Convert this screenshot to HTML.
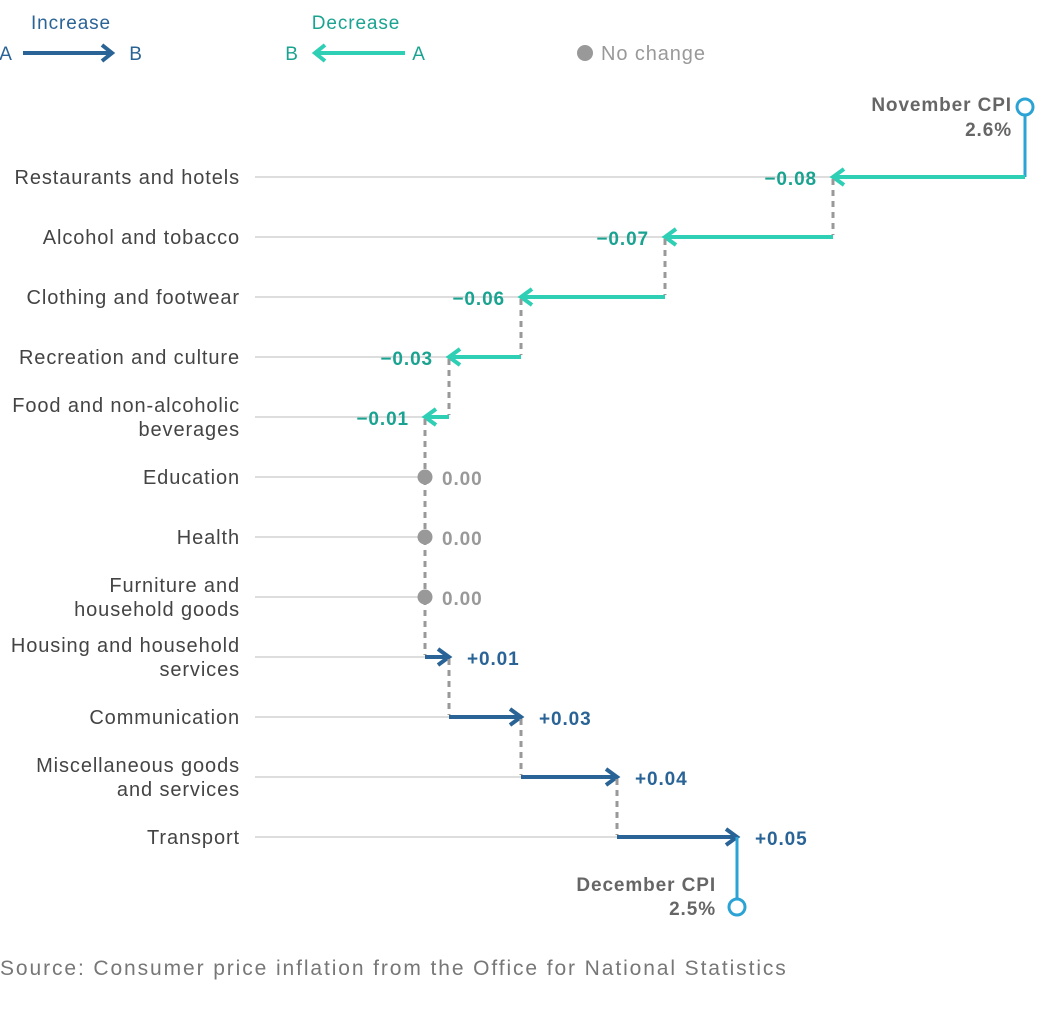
<!DOCTYPE html>
<html><head><meta charset="utf-8"><style>
body{margin:0;background:#fff;width:1050px;height:1010px;overflow:hidden;font-family:"Liberation Sans",sans-serif}
svg text{font-family:"Liberation Sans",sans-serif;letter-spacing:0.9px}
</style></head><body>
<svg id="c" width="1050" height="1010">
<g>
<text x="71" y="29" font-size="19" fill="#2a6496" text-anchor="middle">Increase</text>
<text x="6" y="60" font-size="19" fill="#2a6496" text-anchor="middle">A</text>
<line x1="23" y1="53" x2="112" y2="53" stroke="#2a6496" stroke-width="4"/>
<polyline points="102,45 112,53 102,61" fill="none" stroke="#2a6496" stroke-width="4"/>
<text x="136" y="60" font-size="19" fill="#2a6496" text-anchor="middle">B</text>
<text x="356" y="29" font-size="19" fill="#1aa391" text-anchor="middle">Decrease</text>
<text x="292" y="60" font-size="19" fill="#1aa391" text-anchor="middle">B</text>
<line x1="315" y1="53" x2="405" y2="53" stroke="#2ecfb5" stroke-width="4"/>
<polyline points="325,45 315,53 325,61" fill="none" stroke="#2ecfb5" stroke-width="4"/>
<text x="419" y="60" font-size="19" fill="#1aa391" text-anchor="middle">A</text>
<circle cx="585" cy="53" r="8" fill="#999"/>
<text x="601" y="60" font-size="20" fill="#999">No change</text>
</g>
<text x="0" y="975" font-size="21" fill="#777" style="letter-spacing:1.9px">Source: Consumer price inflation from the Office for National Statistics</text>
</svg>
<script>
const categories=[["Restaurants and hotels"],["Alcohol and tobacco"],["Clothing and footwear"],["Recreation and culture"],["Food and non-alcoholic","beverages"],["Education"],["Health"],["Furniture and","household goods"],["Housing and household","services"],["Communication"],["Miscellaneous goods","and services"],["Transport"]];
const changes=[-0.08,-0.07,-0.06,-0.03,-0.01,0,0,0,0.01,0.03,0.04,0.05];
const startLabel="2.6%", endLabel="2.5%";
const svg=document.getElementById('c');
const NS="http://www.w3.org/2000/svg";
const x0=1025, pxPerUnit=2400, y0=177, step=60;
const xs=v=>x0+v*pxPerUnit;
const ys=i=>y0+i*step;
function mk(t,a,p){const e=document.createElementNS(NS,t);for(const k in a)e.setAttribute(k,a[k]);(p||svg).appendChild(e);return e;}
const teal="#2ecfb5",tealT="#1aa391",blue="#2a6496",gray="#999",start="#2ba3d4";
let cum=0;
const pts=[];
changes.forEach((c,i)=>{const a=cum;cum+=c;pts.push([a,cum]);});
const s=mk('g',{});


mk('line',{x1:xs(0),y1:115,x2:xs(0),y2:ys(0),stroke:start,"stroke-width":3},s);
mk('circle',{cx:xs(0),cy:107,r:8,fill:"#fff",stroke:start,"stroke-width":3},s);
let t=mk('text',{x:1012,y:111,"font-size":19,"font-weight":"bold",fill:"#666","text-anchor":"end"},s);t.textContent="November CPI";
t=mk('text',{x:1012,y:136,"font-size":19,"font-weight":"bold",fill:"#666","text-anchor":"end"},s);t.textContent=startLabel;
pts.forEach(([a,b],i)=>{
  const y=ys(i),xa=xs(a),xb=xs(b),c=changes[i];
  const g=mk('g',{});
  
  
  mk('line',{x1:255,y1:y,x2:Math.min(xa,xb),y2:y,stroke:"#ddd","stroke-width":2},g);
  const lines=categories[i];
  lines.forEach((l,j)=>{const tt=mk('text',{x:240,y:y+7-(lines.length-1)*12+j*24,"font-size":20,fill:"#444","text-anchor":"end"},g);tt.textContent=l;});
  if(i>0) mk('line',{x1:xa,y1:ys(i-1)+2,x2:xa,y2:y-2,stroke:gray,"stroke-width":3,"stroke-dasharray":"6,5"},g);
  if(c===0){
    mk('circle',{cx:xa,cy:y,r:7.5,fill:gray},g);
    const tt=mk('text',{x:xa+17,y:y+8,"font-size":19,"font-weight":"bold",fill:gray},g);tt.textContent="0.00";
  }else{
    const col=c<0?teal:blue, d=c<0?1:-1;
    mk('line',{x1:xa,y1:y,x2:xb,y2:y,stroke:col,"stroke-width":4},g);
    mk('polyline',{points:`${xb+d*11},${y-8} ${xb},${y} ${xb+d*11},${y+8}`,fill:"none",stroke:col,"stroke-width":4},g);
    const lbl=(c<0?"\u2212":"+")+Math.abs(c).toFixed(2);
    const tt=c<0?mk('text',{x:xb-16,y:y+8,"font-size":19,"font-weight":"bold",fill:tealT,"text-anchor":"end"},g)
                :mk('text',{x:xb+18,y:y+8,"font-size":19,"font-weight":"bold",fill:blue},g);
    tt.textContent=lbl;
  }
});
const xe=xs(cum), ye=ys(changes.length-1);
const e=mk('g',{});


mk('line',{x1:xe,y1:ye,x2:xe,y2:899,stroke:start,"stroke-width":3},e);
mk('circle',{cx:xe,cy:907,r:8,fill:"#fff",stroke:start,"stroke-width":3},e);
t=mk('text',{x:716,y:891,"font-size":19,"font-weight":"bold",fill:"#666","text-anchor":"end"},e);t.textContent="December CPI";
t=mk('text',{x:716,y:915,"font-size":19,"font-weight":"bold",fill:"#666","text-anchor":"end"},e);t.textContent=endLabel;
</script>
</body></html>
